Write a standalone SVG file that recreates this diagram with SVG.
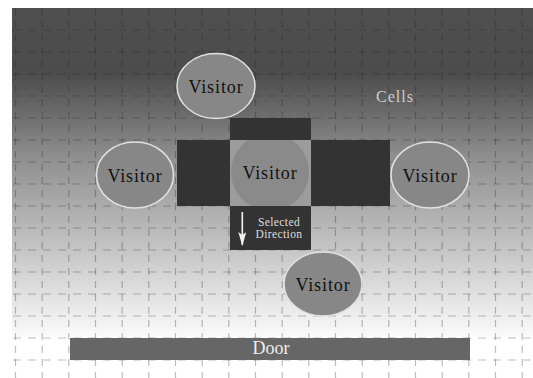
<svg xmlns="http://www.w3.org/2000/svg" width="533" height="378" viewBox="0 0 533 378">
  <defs>
    <linearGradient id="floor" x1="0" y1="8" x2="0" y2="337" gradientUnits="userSpaceOnUse">
      <stop offset="0" stop-color="#4f4f4f"/>
      <stop offset="0.2" stop-color="#4c4c4c"/>
      <stop offset="0.45" stop-color="#8e8e8e"/>
      <stop offset="0.75" stop-color="#c8c8c8"/>
      <stop offset="1" stop-color="#fbfbfb"/>
    </linearGradient>
    <marker id="head" viewBox="0 0 14 8" refX="13" refY="4" markerWidth="14" markerHeight="8" markerUnits="userSpaceOnUse" orient="auto">
      <path d="M0,0 L3,4 L0,8 L14,4 Z" fill="#f2f2f2"/>
    </marker>
    <style>
      .vline { stroke: #222; stroke-opacity: 0.3; stroke-width: 1.2; stroke-dasharray: 7 6; fill: none; }
      .hline { stroke: #222; stroke-opacity: 0.3; stroke-width: 1.2; stroke-dasharray: 8 7; fill: none; }
      .cell { fill: #333; }
      .visitor { fill: #878787; stroke: #e2e2e2; stroke-width: 1.5; }
      .vtext { font-family: "Liberation Serif", "Times New Roman", serif; font-size: 18px; letter-spacing: 0.9px; fill: #111; text-anchor: middle; }
      .small { font-family: "Liberation Serif", "Times New Roman", serif; font-size: 11.5px; fill: #dedede; text-anchor: middle; letter-spacing: 0.4px; }
    </style>
  </defs>

  <!-- floor -->
  <rect x="0" y="0" width="533" height="378" fill="#fff"/>
  <rect x="12" y="8" width="521" height="329" fill="url(#floor)"/>

  <!-- dashed cell grid -->
  <g id="grid">
    <path class="vline" d="M15.5,8V378 M42.2,8V378 M68.8,8V378 M95.5,8V378 M122.2,8V378 M148.8,8V378 M175.5,8V378 M202.2,8V378 M228.8,8V378 M255.5,8V378 M282.2,8V378 M308.8,8V378 M335.5,8V378 M362.2,8V378 M388.8,8V378 M415.5,8V378 M442.2,8V378 M468.8,8V378 M495.5,8V378 M522.2,8V378"/>
    <path class="hline" d="M13,30H533 M13,52H533 M13,74H533 M13,96H533 M13,118H533 M13,140H533 M13,162H533 M13,184H533 M13,206H533 M13,228H533 M13,250H533 M13,272H533 M13,294H533 M13,316H533 M13,338H533 M13,360H533"/>
  </g>

  <text id="cells-label" x="395" y="101.5" font-family="Liberation Serif, Times New Roman, serif" font-size="16" fill="#cfcfcf" text-anchor="middle" letter-spacing="1">Cells</text>

  <!-- neighbourhood around the central visitor -->
  <g id="center-cell">
    <rect x="230" y="140" width="81" height="66" fill="#9c9c9c"/>
    <circle cx="270" cy="172" r="39" fill="#8a8a8a"/>
  </g>
  <rect id="cell-top" class="cell" x="230" y="118" width="81" height="22"/>
  <rect id="cell-left" class="cell" x="177" y="140" width="53" height="66"/>
  <rect id="cell-right" class="cell" x="311" y="140" width="79" height="66"/>
  <g id="cell-selected">
    <rect class="cell" x="230" y="206" width="81" height="44"/>
    <text class="small" x="279" y="226">Selected</text>
    <text class="small" x="279" y="237.5">Direction</text>
  </g>
  <text id="center-visitor" class="vtext" x="270" y="179">Visitor</text>

  <g id="connectors">
    <line x1="242.3" y1="212" x2="242.3" y2="245" stroke="#f2f2f2" stroke-width="1.6" marker-end="url(#head)"/>
  </g>

  <!-- surrounding visitors -->
  <g id="visitor-top">
    <ellipse class="visitor" cx="216" cy="86" rx="39" ry="32.5" fill="#787878"/>
    <text class="vtext" x="216" y="92.5">Visitor</text>
  </g>
  <g id="visitor-left">
    <ellipse class="visitor" cx="135" cy="175" rx="38.5" ry="33"/>
    <text class="vtext" x="135" y="181.5">Visitor</text>
  </g>
  <g id="visitor-right">
    <ellipse class="visitor" cx="430" cy="175" rx="39" ry="33"/>
    <text class="vtext" x="430" y="181.5">Visitor</text>
  </g>
  <g id="visitor-bottom">
    <ellipse class="visitor" cx="323" cy="284" rx="39" ry="32" fill="#8c8c8c" stroke="#eee"/>
    <text class="vtext" x="323" y="290.5">Visitor</text>
  </g>

  <!-- exit -->
  <g id="door">
    <rect x="70" y="338" width="400" height="22" fill="#666"/>
    <text x="271" y="354" font-family="Liberation Serif, Times New Roman, serif" font-size="18" fill="#eee" text-anchor="middle">Door</text>
  </g>
</svg>
